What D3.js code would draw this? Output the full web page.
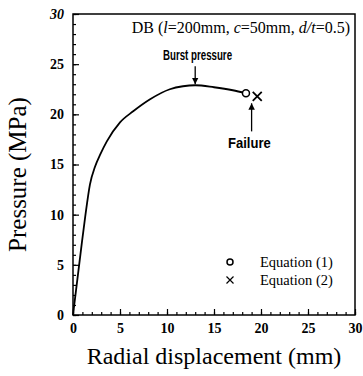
<!DOCTYPE html>
<html>
<head>
<meta charset="utf-8">
<script src="https://cdn.jsdelivr.net/npm/d3@7"></script>
<style>
  body { margin: 0; background: #fff; }
  text { font-family: "Liberation Serif", "Times New Roman", serif; fill: #000; }
</style>
</head>
<body>
<div id="chart"></div>
<script>
// curve
const disp = [0, 0.85, 1.3, 1.8, 2.35, 2.9, 3.6, 5.0, 6.4, 8.2, 10.3, 11.7, 13, 15, 17, 18.4]
const pres = [0, 6.5, 9.8, 13.0, 14.8, 16, 17.3, 19.2, 20.3, 21.5, 22.5, 22.8, 22.9, 22.7, 22.4, 22.1]
const eq1 = [18.4, 22.1]
const eq2 = [19.6, 21.8]
const xTicks = [0, 5, 10, 15, 20, 25, 30]
const yTicks = [0, 5, 10, 15, 20, 25, 30]

let chartWidth = 363
let chartHeight = 376
let margin = { left: 73, right: 8, top: 14, bottom: 61 }

let x = d3.scaleLinear().domain([0, 30]).range([margin.left, chartWidth - margin.right])
let y = d3.scaleLinear().domain([0, 30]).range([chartHeight - margin.bottom, margin.top])

let svg = d3.select('#chart')
            .append('svg')
            .attr('width', chartWidth)
            .attr('height', chartHeight)

// frame
svg.append('rect')
    .attr('x', x(0)).attr('y', y(30))
    .attr('width', x(30) - x(0)).attr('height', y(0) - y(30))
    .attr('fill', 'none').attr('stroke', '#000').attr('stroke-width', 1.5)

// minor ticks (inward)
let xAxisMinor = d3.axisBottom(x).ticks(30).tickSize(-3).tickFormat('')
let yAxisMinor = d3.axisLeft(y).ticks(30).tickSize(-3).tickFormat('')
svg.append('g').attr('transform', `translate(0,${y(0)})`).call(xAxisMinor)
svg.append('g').attr('transform', `translate(${x(0)},0)`).call(yAxisMinor)

// major ticks + labels
let xAxis = d3.axisBottom(x).tickValues(xTicks).tickSize(-6).tickPadding(8)
let yAxis = d3.axisLeft(y).tickValues(yTicks).tickSize(-6).tickPadding(9)
let gx = svg.append('g').attr('transform', `translate(0,${y(0)})`).call(xAxis)
let gy = svg.append('g').attr('transform', `translate(${x(0)},0)`).call(yAxis)

svg.selectAll('.domain').remove()
svg.selectAll('.tick line').attr('stroke', '#000').attr('stroke-width', 1.2)
gx.selectAll('text').attr('font-size', 14).attr('font-weight', 'bold')
    .style('font-family', '"Liberation Serif", serif')
gy.selectAll('text').attr('font-size', 14).attr('font-weight', 'bold')
    .style('font-family', '"Liberation Serif", serif')
gy.select('.tick:last-of-type text').attr('font-style', 'italic')

// curve
let line = d3.line()
    .x((d, i) => x(disp[i]))
    .y(d => y(d))
    .curve(d3.curveMonotoneX)

svg.append('path')
    .datum(pres)
    .attr('d', line)
    .attr('fill', 'none')
    .attr('stroke', '#000')
    .attr('stroke-width', 1.8)

// markers
function circleMark(cx, cy, r) {
    svg.append('circle').attr('cx', cx).attr('cy', cy).attr('r', r)
        .attr('fill', '#fff').attr('stroke', '#000').attr('stroke-width', 1.5)
}
function crossMark(cx, cy, s, w) {
    svg.append('path')
        .attr('d', `M${cx - s},${cy - s}L${cx + s},${cy + s}M${cx - s},${cy + s}L${cx + s},${cy - s}`)
        .attr('stroke', '#000').attr('stroke-width', w)
}
circleMark(x(eq1[0]), y(eq1[1]), 3.5)
crossMark(x(eq2[0]), y(eq2[1]), 4.5, 1.8)

// arrows
svg.append('defs').append('marker')
    .attr('id', 'head').attr('viewBox', '0 0 10 10')
    .attr('refX', 10).attr('refY', 5)
    .attr('markerWidth', 5).attr('markerHeight', 7)
    .attr('orient', 'auto-start-reverse')
    .append('path').attr('d', 'M0,0L10,5L0,10Z').attr('fill', '#000')

svg.append('line')
    .attr('x1', x(13)).attr('x2', x(13))
    .attr('y1', y(24.8)).attr('y2', y(23.0))
    .attr('stroke', '#000').attr('stroke-width', 1.3)
    .attr('marker-end', 'url(#head)')

svg.append('line')
    .attr('x1', x(19)).attr('x2', x(19))
    .attr('y1', y(18.3)).attr('y2', y(21.1))
    .attr('stroke', '#000').attr('stroke-width', 1.3)
    .attr('marker-end', 'url(#head)')

// annotations
svg.append('text')
    .attr('transform', 'translate(163,60) scale(0.67,1)')
    .attr('font-size', 14.5)
    .attr('font-weight', 'bold')
    .style('font-family', '"Liberation Sans", Arial, sans-serif')
    .text('Burst pressure')

svg.append('text')
    .attr('transform', 'translate(228,148) scale(0.9,1)')
    .attr('font-size', 14.5)
    .attr('font-weight', 'bold')
    .style('font-family', '"Liberation Sans", Arial, sans-serif')
    .text('Failure')

let title = svg.append('text')
    .attr('x', 350).attr('y', 33)
    .attr('text-anchor', 'end')
    .attr('font-size', 16)
title.append('tspan').text('DB (')
title.append('tspan').attr('font-style', 'italic').text('l')
title.append('tspan').text('=200mm, ')
title.append('tspan').attr('font-style', 'italic').text('c')
title.append('tspan').text('=50mm, ')
title.append('tspan').attr('font-style', 'italic').text('d/t')
title.append('tspan').text('=0.5)')

// legend
circleMark(230, 262, 3)
svg.append('text').attr('x', 260).attr('y', 267).attr('font-size', 14.5).text('Equation (1)')
crossMark(230, 280, 3.5, 1.2)
svg.append('text').attr('x', 260).attr('y', 285).attr('font-size', 14.5).text('Equation (2)')

// axis titles
svg.append('text')
    .attr('x', 214).attr('y', 364)
    .attr('text-anchor', 'middle')
    .attr('font-size', 24)
    .text('Radial displacement (mm)')

svg.append('text')
    .attr('transform', `translate(26,${(y(0) + y(30)) / 2 + 10}) rotate(-90)`)
    .attr('text-anchor', 'middle')
    .attr('font-size', 25)
    .text('Pressure (MPa)')
</script>
</body>
</html>
